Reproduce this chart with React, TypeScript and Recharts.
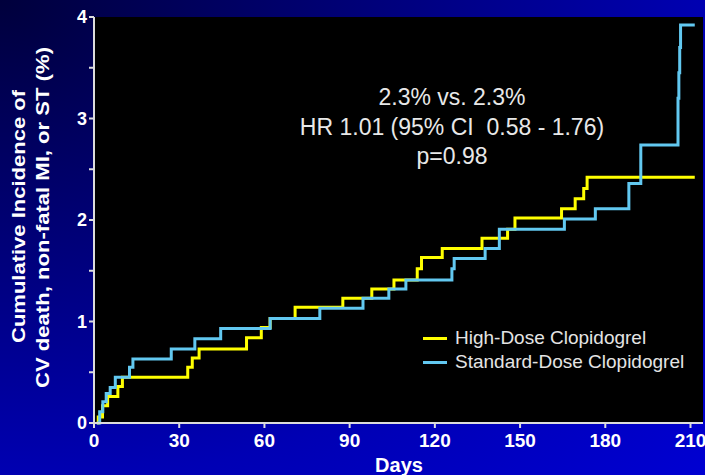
import { LineChart, Line, XAxis, YAxis, CartesianGrid, Label } from "recharts";

// Kaplan-Meier style step curves (days, cumulative %)
const highDays = [1, 1.5, 3, 4.8, 8.4, 10, 33, 34.6, 37, 53.7, 58.9, 62, 70.8, 87.6, 97.8, 105.6, 113.8, 115.3, 122.6, 136.6, 145.6, 148.2, 164.6, 169.4, 172.4, 173.6, 211.5];
const highRates = [0, 0.06, 0.17, 0.26, 0.36, 0.45, 0.55, 0.64, 0.73, 0.84, 0.94, 1.03, 1.14, 1.23, 1.32, 1.41, 1.52, 1.63, 1.72, 1.82, 1.91, 2.02, 2.11, 2.21, 2.31, 2.42, 2.42];

const stdDays = [1, 2, 3.1, 4.3, 5.7, 7.5, 12.5, 13.7, 27.2, 35.5, 44.6, 62, 79.5, 94.7, 103.8, 109.8, 126, 126.8, 137.7, 142.7, 165.6, 176.5, 188.3, 192.5, 205.6, 205.9, 206.2, 206.5, 211.5];
const stdRates = [0, 0.11, 0.21, 0.29, 0.35, 0.45, 0.55, 0.63, 0.73, 0.83, 0.93, 1.03, 1.13, 1.23, 1.32, 1.41, 1.52, 1.62, 1.72, 1.91, 2.01, 2.11, 2.36, 2.74, 3.2, 3.45, 3.7, 3.92, 3.92];

const xTicks = [0, 30, 60, 90, 120, 150, 180, 210];
const yTicks = [0, 0.5, 1, 1.5, 2, 2.5, 3, 3.5, 4];

const seriesNames = ["High-Dose Clopidogrel", "Standard-Dose Clopidogrel"];
const seriesColors = ["#ffff00", "#62c8f0"];

const statLines = ["2.3% vs. 2.3%", "HR 1.01 (95% CI  0.58 - 1.76)", "p=0.98"];

const highData = highDays.map((d, i) => ({ day: d, rate: highRates[i] }));
const stdData = stdDays.map((d, i) => ({ day: d, rate: stdRates[i] }));

const FONT = '"Liberation Sans", Arial, sans-serif';
const AXIS = "#dcdcdc";

const YTitle = () => (
  <g fill="#ffffff" fontFamily={FONT} fontWeight="bold" fontSize={18}>
    <text transform="translate(25,216.5) rotate(-90)" textAnchor="middle" textLength={253} lengthAdjust="spacingAndGlyphs">
      Cumulative Incidence of
    </text>
    <text transform="translate(49,217.5) rotate(-90)" textAnchor="middle" textLength={341} lengthAdjust="spacingAndGlyphs">
      CV death, non-fatal MI, or ST (%)
    </text>
  </g>
);

const XTitle = () => (
  <text x={399} y={472} textAnchor="middle" fill="#ffffff" fontFamily={FONT} fontWeight="bold" fontSize={20}>
    Days
  </text>
);

export default function App() {
  return (
    <div
      style={{
        position: "absolute",
        left: 0,
        top: 0,
        width: 705,
        height: 475,
        background: "radial-gradient(ellipse at 0% 0%, #00003c 0%, #00007e 40%, #0000b4 72%, #0000d2 100%)",
        overflow: "hidden",
      }}
    >
      <LineChart width={705} height={475} margin={{ top: 17, right: 2, bottom: 0, left: 0 }}>
        <CartesianGrid fill="#000000" stroke="none" horizontal={false} vertical={false} />
        <XAxis
          type="number"
          dataKey="day"
          domain={[0, 214.4]}
          ticks={xTicks}
          allowDataOverflow
          height={52}
          stroke={AXIS}
          strokeWidth={2}
          tickSize={5}
          tickMargin={6}
          tick={{ fill: "#ffffff", fontFamily: FONT, fontWeight: "bold", fontSize: 19 }}
        >
          <Label content={<XTitle />} />
        </XAxis>
        <YAxis
          type="number"
          domain={[0, 4]}
          ticks={yTicks}
          width={94}
          stroke={AXIS}
          strokeWidth={2}
          tickSize={5}
          tickMargin={2}
          tickFormatter={(v: number) => (Number.isInteger(v) ? String(v) : "")}
          tick={{ fill: "#ffffff", fontFamily: FONT, fontWeight: "bold", fontSize: 18 }}
        >
          <Label content={<YTitle />} />
        </YAxis>
        <Line
          data={highData}
          dataKey="rate"
          name={seriesNames[0]}
          type="stepAfter"
          stroke={seriesColors[0]}
          strokeWidth={3}
          dot={false}
          isAnimationActive={false}
        />
        <Line
          data={stdData}
          dataKey="rate"
          name={seriesNames[1]}
          type="stepAfter"
          stroke={seriesColors[1]}
          strokeWidth={3}
          dot={false}
          isAnimationActive={false}
        />
      </LineChart>
      {/* legend */}
      <div
        style={{
          position: "absolute",
          left: 423,
          top: 326,
          fontFamily: FONT,
          fontSize: 19,
          color: "#e4e4e4",
          lineHeight: "24px",
        }}
      >
        {seriesNames.map((name, i) => (
          <div key={name} style={{ display: "flex", alignItems: "center", whiteSpace: "nowrap" }}>
            <span style={{ display: "inline-block", width: 24, height: 3, background: seriesColors[i], marginRight: 8 }} />
            <span>{name}</span>
          </div>
        ))}
      </div>
      {/* stats annotation */}
      <div
        style={{
          position: "absolute",
          left: 252,
          top: 83,
          width: 400,
          textAlign: "center",
          fontFamily: FONT,
          fontSize: 23,
          lineHeight: "29.5px",
          color: "#e8e8e8",
          whiteSpace: "pre",
        }}
      >
        {statLines.map((t) => (
          <div key={t}>{t}</div>
        ))}
      </div>
    </div>
  );
}
